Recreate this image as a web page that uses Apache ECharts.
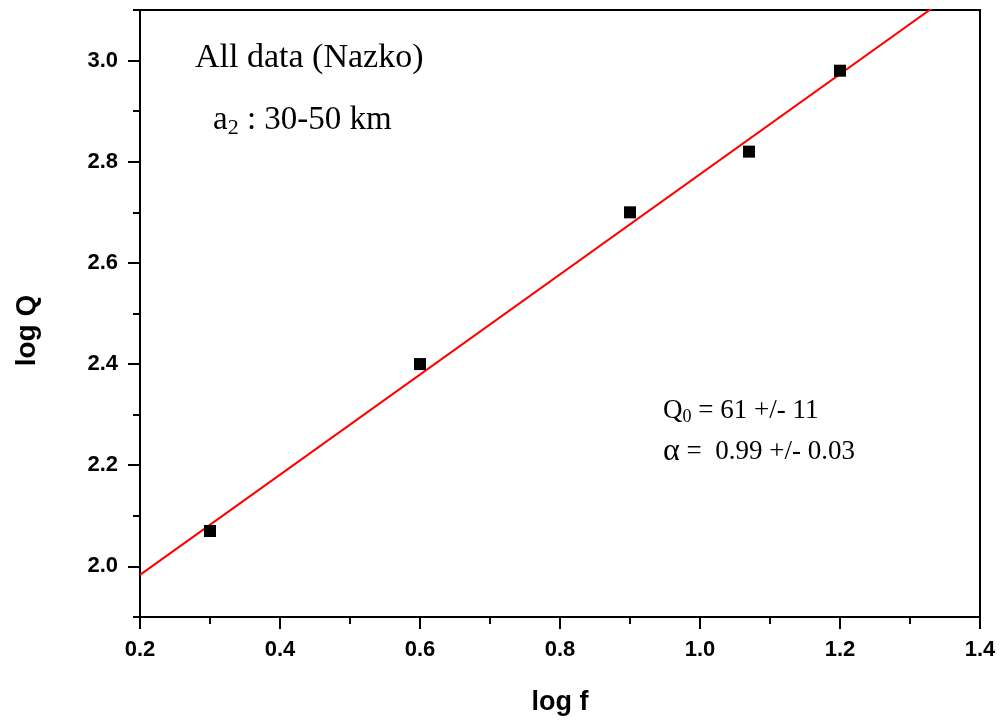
<!DOCTYPE html>
<html>
<head>
<meta charset="utf-8">
<title>log Q vs log f</title>
<script src="https://cdn.jsdelivr.net/npm/echarts@6/dist/echarts.min.js"></script>
<style>
  html, body { margin: 0; padding: 0; background: #fff; }
  #chart { width: 1002px; height: 723px; }
</style>
</head>
<body>
<div id="chart"></div>
<script>
// Measured points: log frequency vs log quality factor
const logF = [0.30, 0.60, 0.90, 1.07, 1.20];
const logQ = [2.07, 2.40, 2.70, 2.82, 2.98];

// Fit parameters Q = Q0 * f^alpha
const Q0 = 61;
const alpha = 0.99;
const fitRange = [0.2, 1.4];

// Axis ticks
const xTicks = [0.2, 0.4, 0.6, 0.8, 1.0, 1.2, 1.4];
const yMajorTicks = [2.0, 2.2, 2.4, 2.6, 2.8, 3.0];
const yMinorTicks = [1.9, 2.1, 2.3, 2.5, 2.7, 2.9, 3.1];

const points = logF.map((x, i) => [x, logQ[i]]);
const fitLine = fitRange.map(x => [x, Math.log10(Q0) + alpha * x]);

const sansBold = { fontFamily: 'Liberation Sans, Arial, sans-serif', fontWeight: 'bold', color: '#000' };
const serif = 'Liberation Serif, Times New Roman, serif';

const chart = echarts.init(document.getElementById('chart'), null, { renderer: 'canvas' });

chart.setOption({
  animation: false,
  backgroundColor: '#fff',
  grid: {
    left: 140, top: 10, right: 22, bottom: 106,
    show: true, borderColor: '#000', borderWidth: 2, backgroundColor: 'transparent'
  },
  xAxis: {
    type: 'value',
    min: xTicks[0], max: xTicks[xTicks.length - 1], interval: 0.2,
    name: 'log f',
    nameLocation: 'middle',
    nameGap: 72,
    nameTextStyle: Object.assign({ fontSize: 27 }, sansBold),
    axisLine: { show: true, onZero: false, lineStyle: { color: '#000', width: 2 } },
    axisTick: { show: true, inside: false, length: 12, lineStyle: { color: '#000', width: 2 } },
    minorTick: { show: true, splitNumber: 2, length: 7, lineStyle: { color: '#000', width: 2 } },
    axisLabel: Object.assign({ fontSize: 22, margin: 22, formatter: v => v.toFixed(1) }, sansBold),
    splitLine: { show: false },
    minorSplitLine: { show: false }
  },
  yAxis: [
    {
      type: 'value',
      min: 1.9, max: 3.1,
      name: 'log Q',
      nameLocation: 'middle',
      nameGap: 99,
      nameRotate: 90,
      nameTextStyle: Object.assign({ fontSize: 28, padding: [0, 34, 0, 0] }, sansBold),
      axisLine: { show: true, onZero: false, lineStyle: { color: '#000', width: 2 } },
      axisTick: { show: true, inside: false, length: 12, customValues: yMajorTicks, lineStyle: { color: '#000', width: 2 } },
      axisLabel: Object.assign({ fontSize: 22, margin: 22, customValues: yMajorTicks, formatter: v => v.toFixed(1) }, sansBold),
      splitLine: { show: false }
    },
    {
      type: 'value',
      min: 1.9, max: 3.1,
      position: 'left',
      axisLine: { show: false },
      axisTick: { show: true, inside: false, length: 7, customValues: yMinorTicks, lineStyle: { color: '#000', width: 2 } },
      axisLabel: { show: false },
      splitLine: { show: false }
    }
  ],
  series: [
    {
      type: 'line',
      data: fitLine,
      showSymbol: false,
      clip: true,
      lineStyle: { color: '#ff0000', width: 2 },
      z: 2
    },
    {
      type: 'scatter',
      data: points,
      symbol: 'rect',
      symbolSize: 12,
      itemStyle: { color: '#000', opacity: 1 },
      z: 3
    }
  ],
  graphic: [
    {
      type: 'text', left: 195, top: 41,
      style: { text: 'All data (Nazko)', font: '34px ' + serif, fill: '#000' }
    },
    {
      type: 'text', left: 213, top: 104,
      style: {
        text: '{m|a}{s|2}{m| : 30-50 km}',
        rich: {
          m: { fontFamily: serif, fontSize: 33, lineHeight: 38, verticalAlign: 'middle', fill: '#000' },
          s: { fontFamily: serif, fontSize: 22, lineHeight: 38, verticalAlign: 'bottom', fill: '#000' }
        }
      }
    },
    {
      type: 'text', left: 663, top: 397,
      style: {
        text: '{m|Q}{s|0}{m| = 61 +/- 11}',
        rich: {
          m: { fontFamily: serif, fontSize: 27, lineHeight: 32, verticalAlign: 'middle', fill: '#000' },
          s: { fontFamily: serif, fontSize: 18, lineHeight: 32, verticalAlign: 'bottom', fill: '#000' }
        }
      }
    },
    {
      type: 'text', left: 663, top: 436,
      style: {
        text: '{g|\u03b1}{m| =  0.99 +/- 0.03}',
        rich: {
          g: { fontFamily: serif, fontSize: 32, lineHeight: 32, verticalAlign: 'middle', fill: '#000' },
          m: { fontFamily: serif, fontSize: 27, lineHeight: 32, verticalAlign: 'middle', fill: '#000' }
        }
      }
    }
  ]
});
</script>
</body>
</html>
